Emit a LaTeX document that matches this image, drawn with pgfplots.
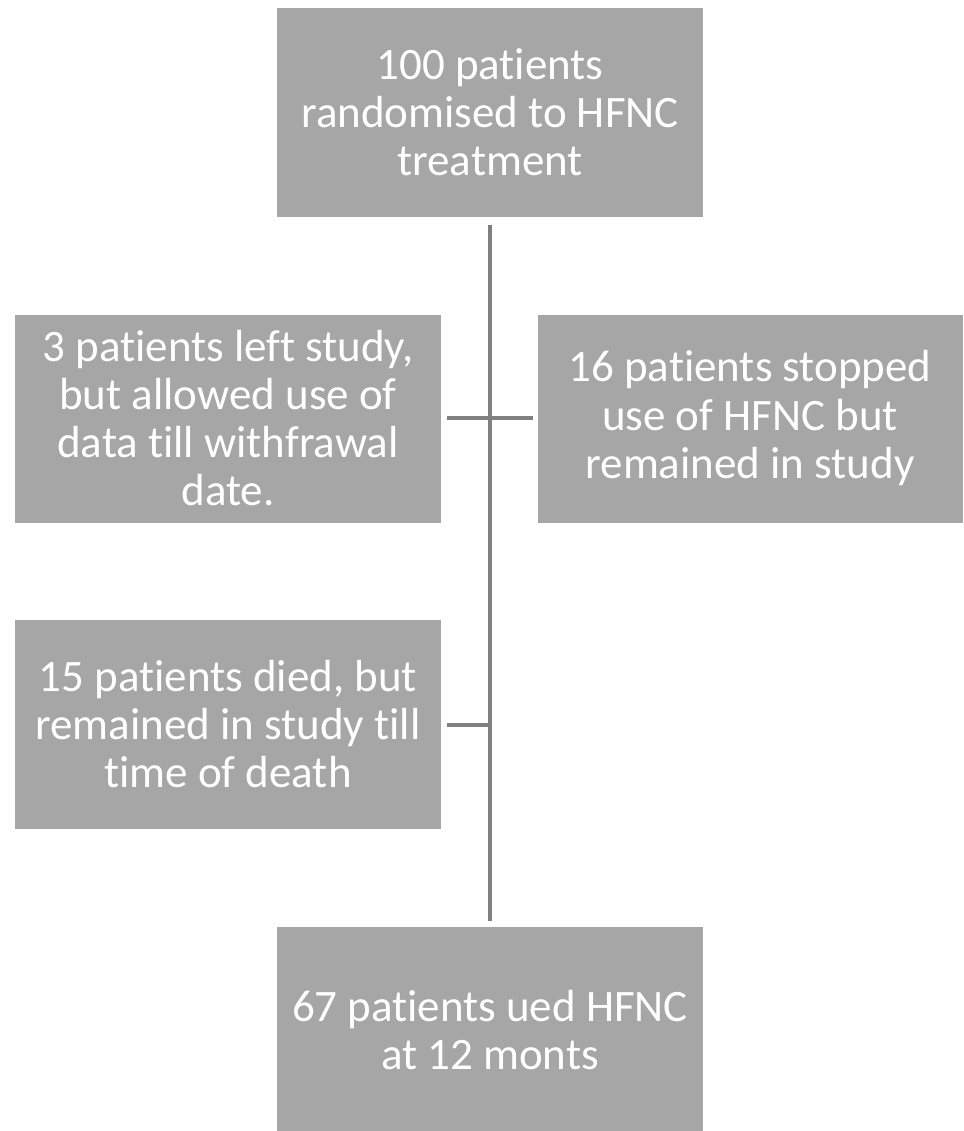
\documentclass[border=0pt]{standalone}
\usepackage{pgfplots}
\pgfplotsset{compat=1.18}
\usepackage{fontspec}
\setmainfont[Ligatures=NoCommon]{Carlito}
\definecolor{boxgray}{HTML}{A6A6A6}
\definecolor{linegray}{HTML}{808080}
\begin{document}
\begin{tikzpicture}
\begin{axis}[
  scale only axis, width=9.63cm, height=11.31cm,
  xmin=0, xmax=963, ymin=0, ymax=1131, y dir=reverse,
  axis lines=none, clip=true,
]
% connector lines
\addplot[linegray, line width=1.4pt] coordinates {(490,225) (490,921)};
\addplot[linegray, line width=1.4pt] coordinates {(447,418) (533,418)};
\addplot[linegray, line width=1.4pt] coordinates {(447,725) (490,725)};
% boxes
\addplot[fill=boxgray, draw=none] coordinates {(277,8) (703,8) (703,217) (277,217)} -- cycle;
\addplot[fill=boxgray, draw=none] coordinates {(15,315) (441,315) (441,523) (15,523)} -- cycle;
\addplot[fill=boxgray, draw=none] coordinates {(538,315) (963,315) (963,523) (538,523)} -- cycle;
\addplot[fill=boxgray, draw=none] coordinates {(15,620) (441,620) (441,829) (15,829)} -- cycle;
\addplot[fill=boxgray, draw=none] coordinates {(277,927) (703,927) (703,1140) (277,1140)} -- cycle;
% texts
\tikzset{bt/.style={align=center, text=white, font=\fontsize{12.8}{13.7}\selectfont, inner sep=0pt}}
\node[bt] at (axis cs:490,112) {100 patients\\randomised to HFNC\\treatment};
\node[bt] at (axis cs:228,418) {3 patients left study,\\but allowed use of\\data till withfrawal\\date.};
\node[bt] at (axis cs:750,418) {16 patients stopped\\use of HFNC but\\remained in study};
\node[bt] at (axis cs:228,724) {15 patients died, but\\remained in study till\\time of death};
\node[bt] at (axis cs:490,1030) {67 patients ued HFNC\\at 12 monts};
\end{axis}
\path (current axis.south west) rectangle (current axis.north east);
\end{tikzpicture}
\end{document}
